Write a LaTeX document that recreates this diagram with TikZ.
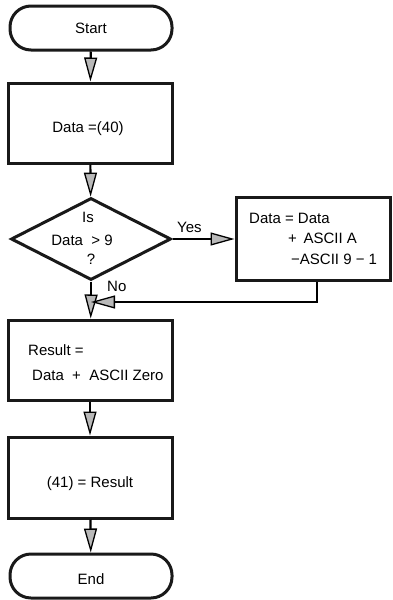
\documentclass[tikz,border=0pt]{standalone}
\usepackage{fontspec}
\setmainfont{Liberation Sans}
\usetikzlibrary{arrows.meta,shapes.geometric}
\begin{document}
\begin{tikzpicture}[x=1pt,y=-1pt,
  every node/.style={font=\fontsize{15}{17}\selectfont},
  boxline/.style={draw=black!90,line width=3pt},
  procbox/.style={boxline,rectangle,inner sep=0pt},
  term/.style={boxline,rectangle,rounded corners=21pt,inner sep=0pt,minimum width=162pt,minimum height=44pt},
  decis/.style={boxline,diamond,inner sep=0pt,minimum width=160pt,minimum height=82pt},
  txt/.style={inner sep=0pt,anchor=base west},
  ctxt/.style={inner sep=0pt,anchor=base},
  flow/.style={line width=2.2pt,-{Triangle[length=24pt,width=13pt,fill=gray!55,line width=1.3pt]}},
  plain/.style={line width=2.2pt}]
\useasboundingbox (0,0) rectangle (392,600);
\node[term] (start) at (91,28) {};
\node[procbox,minimum width=164pt,minimum height=80pt] (d40) at (90,123) {};
\node[decis] (dec) at (91,239) {};
\node[procbox,minimum width=154pt,minimum height=83pt] (rbox) at (313,238.5) {};
\node[procbox,minimum width=164pt,minimum height=80pt] (res) at (90,360) {};
\node[procbox,minimum width=164pt,minimum height=81pt] (r41) at (90,477.5) {};
\node[term] (end) at (91,576) {};
% box texts
\node[ctxt] (ts) at (91,33) {Start};
\node[ctxt] (t40) at (88,132) {Data =(40)};
\node[ctxt] (t41) at (90,487) {(41) = Result};
\node[ctxt] (te) at (91,584) {End};
% texts in decision
\node[ctxt] (t1) at (88,222) {Is};
\node[ctxt] (t2) at (82,245) {Data \ > 9};
\node[ctxt] (t3) at (91,264) {?};
% texts in right box
\node[txt] (r1) at (249,223) {Data = Data};
\node[txt] (r2) at (288,243) {+ \,ASCII A};
\node[txt] (r3) at (291,264) {−ASCII 9 − 1};
% texts in result box
\node[txt] (s1) at (28,355) {Result =};
\node[txt] (s2) at (32,380) {Data \ + \ ASCII Zero};
% labels
\node[txt] (yes) at (177,232) {Yes};
\node[txt] (no) at (107,291) {No};
% connectors
\coordinate (j) at (91,302);
\draw[flow] (start) -- (d40);
\draw[flow] (d40) -- (dec);
\draw[flow] (dec.east) -- (rbox.west |- dec.east);
\draw[plain] (dec.south) -- (j);
\draw[flow] (j) -- (res);
\draw[flow] (rbox.south -| 317,0) |- (j);
\draw[flow] (res) -- (r41);
\draw[flow] (r41) -- (end);
\end{tikzpicture}
\end{document}
